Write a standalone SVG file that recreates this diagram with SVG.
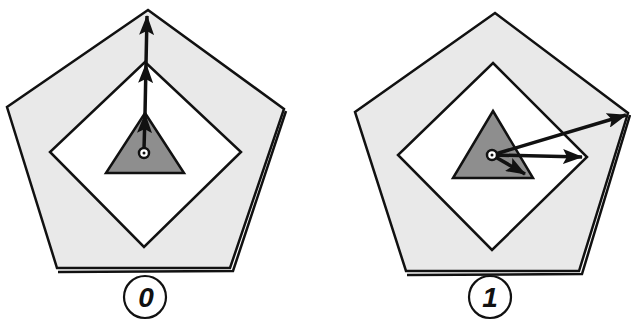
<svg xmlns="http://www.w3.org/2000/svg" width="631" height="320" viewBox="0 0 631 320">
<style>
.pent{fill:#e9e9e9;stroke:#111;stroke-width:2.5;stroke-linejoin:miter}
.shadow{fill:none;stroke:#111;stroke-width:2.5}
.dia{fill:#fff;stroke:#111;stroke-width:2.5}
.tri{fill:#8e8e8e;stroke:#111;stroke-width:2.5;stroke-linejoin:miter}
.arr{fill:none;stroke:#111;stroke-width:3.5}
.hub{fill:#fff;stroke:#111;stroke-width:2.5}
.lbl{fill:#fff;stroke:#111;stroke-width:2.2}
.num{font-family:"Liberation Sans",Arial,sans-serif;font-size:28px;font-weight:bold;font-style:italic;fill:#111;text-anchor:middle}
</style>
<defs>
<marker id="ah" markerUnits="userSpaceOnUse" markerWidth="20" markerHeight="15" refX="19" refY="7.5" orient="auto" viewBox="0 0 20 15">
<path d="M0,0 L20,7.5 L0,15 L4,7.5 Z" fill="#111"/>
</marker>
</defs>
<rect width="631" height="320" fill="#fff"/>
<g id="pentagon0">
<polyline class="shadow" points="286,111 233,271 58,272"/>
<polygon class="pent" points="148,10 284,109 230,268 57,268 7,107"/>
</g>
<g id="diamond0"><polygon class="dia" points="145,62 241,152 144,247 50,152"/></g>
<g id="triangle0"><polygon class="tri" points="145,113 184,173 106,173"/></g>
<g id="pentagon1">
<polyline class="shadow" points="630,115 582,274 407,275"/>
<polygon class="pent" points="495,13 628,113 579,271 406,271 355,112"/>
</g>
<g id="diamond1"><polygon class="dia" points="493,63 587,157 492,250 398,155"/></g>
<g id="triangle1"><polygon class="tri" points="493,111 533,178 453,178"/></g>
<g id="connectors">
<polyline class="arr" points="144,149 145,114 146,64 147,16" marker-mid="url(#ah)" marker-end="url(#ah)"/>
<line class="arr" x1="492" y1="155" x2="626" y2="115" marker-end="url(#ah)"/>
<line class="arr" x1="492" y1="155" x2="582" y2="157" marker-end="url(#ah)"/>
<line class="arr" x1="492" y1="155" x2="525" y2="174" marker-end="url(#ah)"/>
</g>
<g id="hub0"><circle class="hub" cx="144" cy="153" r="5"/><circle cx="144" cy="153" r="1.5" fill="#111"/></g>
<g id="hub1"><circle class="hub" cx="492" cy="155" r="5"/><circle cx="492" cy="155" r="1.5" fill="#111"/></g>
<g id="label0"><circle class="lbl" cx="145" cy="297" r="21"/><text class="num" x="146" y="307">0</text></g>
<g id="label1"><circle class="lbl" cx="490" cy="297" r="21"/><text class="num" x="490" y="307">1</text></g>
</svg>
